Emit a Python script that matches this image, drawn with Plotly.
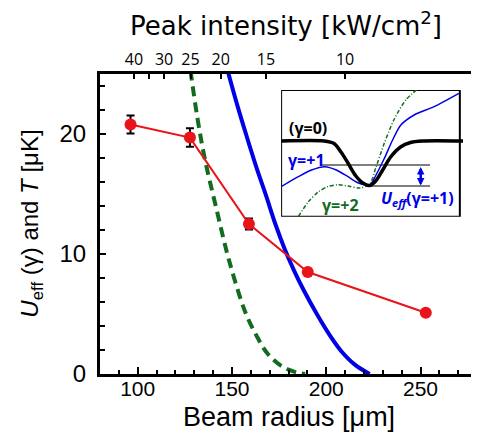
import plotly.graph_objects as go

# Medidas: radio del haz (um) vs temperatura (uK)
beam_radius = [96.2, 127.7, 159.0, 190.2, 252.8]
temperature = [20.8, 19.7, 12.5, 8.5, 5.1]
temp_err = [0.75, 0.77, 0.45, 0.0, 0.0]

# Curva U_eff(gamma=+1) (azul) y U_eff(gamma=+2) (verde discontinua)
radius_g1 = [147.5, 153, 158, 163, 168, 173, 178, 183, 188, 195, 202, 208, 215, 223]
ueff_g1 = [25.4, 22.3, 19.7, 17.2, 14.9, 12.5, 10.4, 8.6, 7.0, 5.0, 3.2, 1.9, 0.8, 0.0]
radius_g2 = [128.0, 131.5, 135.5, 141.4, 148.4, 157.2, 163, 168.6, 175, 180, 185, 188.8]
ueff_g2 = [25.3, 21.5, 18.0, 14.0, 9.5, 5.1, 3.2, 1.75, 0.8, 0.36, 0.1, 0.0]

# Eje superior: intensidad de pico
intensity_text = ["40", "", "30", "25", "20", "15", "10"]
intensity_radius = [98, 106, 114, 128, 144, 168, 210]

# Inset (coordenadas del esquema)
inset_g0_x = [282.7, 326, 336, 343, 350, 358, 365, 372, 378, 385, 393, 403, 413, 425, 466]
inset_g0_y = [141, 141, 143.5, 152, 163, 176, 183, 185.5, 181, 170, 157, 147, 142.5, 141, 141]
inset_g1_x = [282.7, 300, 313.3, 326.7, 338.3, 350, 360, 368.3, 372, 378.3, 386.7, 395, 403.3, 416.7, 436.7, 461.7]
inset_g1_y = [186.7, 176.7, 170, 166.7, 170, 176.7, 182.7, 185, 185.5, 175, 158.3, 140, 125, 115, 106.7, 93.3]
inset_g2_x = [300, 310, 320, 330, 340, 350, 362, 372, 378, 386.7, 396.7, 408.3, 420]
inset_g2_y = [216.7, 202, 192, 186.5, 184.8, 186, 188, 184, 168, 143, 119, 100, 89]
level_top = [323.3, 432.7, 165]
level_bottom = [372, 432.7, 186]
arrow_x = 423.3

BLUE = "#0000e6"
GREEN = "#136b1f"
RED = "#e8141a"
SANS = "Liberation Sans"
CAL = "Open Sans"

fig = go.Figure()

fig.add_trace(go.Scatter(x=radius_g1, y=ueff_g1, mode="lines",
                         line=dict(color=BLUE, width=4, shape="spline"), showlegend=False))
fig.add_trace(go.Scatter(x=radius_g2, y=ueff_g2, mode="lines",
                         line=dict(color=GREEN, width=4, dash="10px,6px", shape="spline"),
                         showlegend=False))
fig.add_trace(go.Scatter(
    x=beam_radius, y=temperature, mode="lines+markers",
    line=dict(color=RED, width=2),
    marker=dict(color=RED, size=12),
    error_y=dict(type="data", array=temp_err, color="black", thickness=2, width=4),
    showlegend=False))

# traza invisible para el eje superior
fig.add_trace(go.Scatter(x=[beam_radius[0]], y=[temperature[0]], xaxis="x2",
                         mode="markers", marker=dict(opacity=0), showlegend=False,
                         hoverinfo="skip"))

# Inset
fig.add_trace(go.Scatter(x=[level_top[0], level_top[1]], y=[level_top[2]] * 2, xaxis="x3", yaxis="y3",
                         mode="lines", line=dict(color="black", width=1), showlegend=False))
fig.add_trace(go.Scatter(x=[level_bottom[0], level_bottom[1]], y=[level_bottom[2]] * 2, xaxis="x3", yaxis="y3",
                         mode="lines", line=dict(color="black", width=1), showlegend=False))
fig.add_trace(go.Scatter(x=inset_g2_x, y=inset_g2_y, xaxis="x3", yaxis="y3", mode="lines",
                         line=dict(color=GREEN, width=1.5, dash="4px,2px,1px,2px", shape="spline", smoothing=0.8),
                         showlegend=False))
fig.add_trace(go.Scatter(x=inset_g1_x, y=inset_g1_y, xaxis="x3", yaxis="y3", mode="lines",
                         line=dict(color=BLUE, width=1.5, shape="spline", smoothing=0.8),
                         showlegend=False))
fig.add_trace(go.Scatter(x=inset_g0_x, y=inset_g0_y, xaxis="x3", yaxis="y3", mode="lines",
                         line=dict(color="black", width=3.5, shape="spline", smoothing=0.8),
                         showlegend=False))

fig.add_shape(type="rect", xref="x3", yref="y3", x0=282.7, x1=462.7, y0=90, y1=216.7,
              line=dict(color="black", width=2), fillcolor="white", layer="below")

# flecha doble entre los dos niveles
fig.add_annotation(xref="x3", yref="y3", x=arrow_x, y=level_bottom[2] - 0.5,
                   ax=arrow_x, ay=level_top[2] + 0.5, axref="x3", ayref="y3",
                   text="", showarrow=True, arrowhead=2, arrowside="end+start",
                   arrowsize=0.6, arrowwidth=2.5, arrowcolor=BLUE, standoff=0, startstandoff=0)

inset_labels = [
    ("<b>(γ=0)</b>", 310, 127.7, "black"),
    ("<b>γ=+1</b>", 308, 160, BLUE),
    ("<b>γ=+2</b>", 342.5, 205, GREEN),
    ("<b><i>U<sub>eff</sub></i>(γ=+1)</b>", 420.5, 198.3, BLUE),
]
for txt, x, y, c in inset_labels:
    fig.add_annotation(xref="x3", yref="y3", x=x, y=y, text=txt, showarrow=False,
                       xanchor="center", yanchor="middle",
                       font=dict(family=CAL, size=16, color=c))

# Títulos de los ejes
fig.add_annotation(xref="paper", yref="paper", x=0.503, y=-0.143, text="Beam radius [μm]",
                   showarrow=False, xanchor="center", yanchor="middle",
                   font=dict(family=SANS, size=27, color="black"))
fig.add_annotation(xref="paper", yref="paper", x=0.495, y=1.165,
                   text="Peak intensity [kW/cm<sup>2</sup>]",
                   showarrow=False, xanchor="center", yanchor="middle",
                   font=dict(family="DejaVu Sans", size=26, color="black"))
fig.add_annotation(xref="paper", yref="paper", x=-0.185, y=0.5, textangle=-90,
                   text="<i>U</i><sub>eff</sub> (γ) and <i>T</i> [μK]",
                   showarrow=False, xanchor="center", yanchor="middle",
                   font=dict(family=SANS, size=24, color="black"))

# la página añade 8 px de margen al cuerpo: se compensa en el tamaño y los márgenes
fig.update_layout(
    width=471, height=426,
    margin=dict(l=92, r=1, t=66, b=60),
    paper_bgcolor="white", plot_bgcolor="white",
    xaxis=dict(range=[80, 278.9], tickvals=[100, 150, 200, 250], ticks="inside",
               ticklen=7, tickwidth=2, tickcolor="black", ticklabelstandoff=-6,
               minor=dict(dtick=10, tick0=80, ticks="inside", ticklen=4, tickwidth=1.5, tickcolor="black"),
               showline=True, linecolor="black", linewidth=3, showgrid=False, zeroline=False,
               tickfont=dict(family=SANS, size=21, color="black")),
    xaxis2=dict(range=[80, 278.9], overlaying="x", side="top", anchor="y",
                tickvals=intensity_radius, ticktext=intensity_text, ticks="inside",
                ticklen=5, tickwidth=1.5, tickcolor="black",
                showline=True, linecolor="black", linewidth=3, showgrid=False, zeroline=False,
                tickfont=dict(family=CAL, size=16, color="black")),
    yaxis=dict(range=[0, 25], tickvals=[0, 10, 20], ticks="inside", ticklen=6, tickwidth=2,
               tickcolor="black", ticklabelstandoff=6,
               minor=dict(dtick=2, tick0=0, ticks="inside", ticklen=5, tickwidth=1.5, tickcolor="black"),
               showline=True, mirror=True, linecolor="black", linewidth=3,
               showgrid=False, zeroline=False,
               tickfont=dict(family=SANS, size=24, color="black")),
    xaxis3=dict(domain=[0.483, 0.9683], range=[282.7, 466], anchor="y3", visible=False),
    yaxis3=dict(domain=[0.5243, 0.9467], range=[216.7, 90], anchor="x3", visible=False),
)

fig.write_html("out.html")
